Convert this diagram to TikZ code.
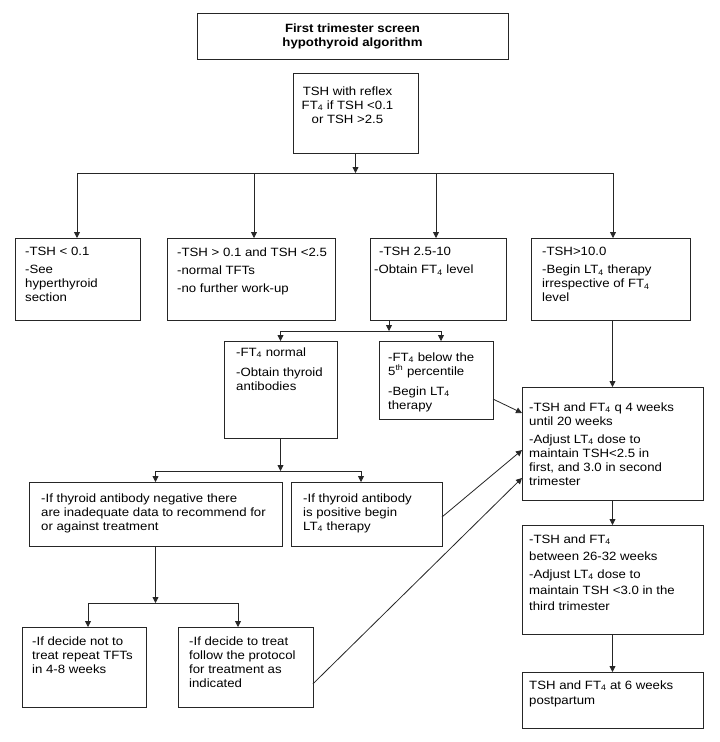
\documentclass[tikz,border=0pt]{standalone}
\usepackage{fontspec}
\setmainfont{Liberation Sans}[FakeStretch=1.1]
\usetikzlibrary{arrows.meta,calc}
\begin{document}
\begin{tikzpicture}[x=1pt,y=-1pt,
  bx/.style={draw=black!85, line width=0.8pt, anchor=north west, inner sep=0pt, outer sep=0pt},
  tx/.style={anchor=north west, inner sep=0pt, align=left, font=\fontsize{12}{14}\selectfont, execute at begin node=\strut},
  ln/.style={draw=black!85, line width=0.8pt},
  arr/.style={ln, -{Triangle[length=6pt,width=6pt]}}]
\fill[white] (0,0) rectangle (720,742);
\useasboundingbox (0,0) rectangle (720,742);

% boxes
\node[bx, minimum width=311, minimum height=46] (title) at (197,13) {};
\node[bx, minimum width=125, minimum height=80] (tsh) at (293,73) {};
\node[bx, minimum width=125, minimum height=82] (b1) at (15,238) {};
\node[bx, minimum width=168, minimum height=82] (b2) at (167,238) {};
\node[bx, minimum width=136, minimum height=82] (b3) at (370,238) {};
\node[bx, minimum width=159, minimum height=82] (b4) at (531,238) {};
\node[bx, minimum width=113, minimum height=97] (fn) at (224,341) {};
\node[bx, minimum width=114, minimum height=78] (fb) at (379,341) {};
\node[bx, minimum width=253, minimum height=64] (neg) at (29,482) {};
\node[bx, minimum width=151, minimum height=64] (pos) at (291,482) {};
\node[bx, minimum width=124, minimum height=80] (not) at (22,627) {};
\node[bx, minimum width=135, minimum height=80] (treat) at (178,627) {};
\node[bx, minimum width=181, minimum height=113] (r1) at (522,387) {};
\node[bx, minimum width=181, minimum height=109] (r2) at (522,525) {};
\node[bx, minimum width=181, minimum height=56] (r3) at (522,672) {};

% texts
\node[tx, anchor=north, align=center, font=\bfseries\fontsize{12}{14}\selectfont] (titlet) at (352.5,23.2) {First trimester screen\\hypothyroid algorithm};
\node[tx, anchor=north, align=center] (tsht) at (347.5,86.2) {TSH with reflex\\FT\textsubscript{4} if TSH <0.1\\or TSH >2.5};
\node[tx] (b1t) at (25,247.2) {-TSH < 0.1\\[4pt]-See\\hyperthyroid\\section};
\node[tx] (b2t) at (177,247.2) {-TSH > 0.1 and TSH <2.5\\[4pt]-normal TFTs\\[4pt]-no further work-up};
\node[tx] (b3t) at (374,247.2) {\hspace*{5pt}-TSH 2.5-10\\[4pt]-Obtain FT\textsubscript{4} level};
\node[tx] (b4t) at (542,247.2) {-TSH>10.0\\[4pt]-Begin LT\textsubscript{4} therapy\\irrespective of FT\textsubscript{4}\\level};
\node[tx] (fnt) at (236,347.2) {-FT\textsubscript{4} normal\\[6pt]-Obtain thyroid\\antibodies};
\node[tx] (fbt) at (388,352.2) {-FT\textsubscript{4} below the\\5\textsuperscript{th} percentile\\[6pt]-Begin LT\textsubscript{4}\\therapy};
\node[tx] (negt) at (41,493.2) {-If thyroid antibody negative there\\are inadequate data to recommend for\\or against treatment};
\node[tx] (post) at (303,493.2) {-If thyroid antibody\\is positive begin\\LT\textsubscript{4} therapy};
\node[tx] (nott) at (32,636.2) {-If decide not to\\treat repeat TFTs\\in 4-8 weeks};
\node[tx] (treatt) at (189,636.2) {-If decide to treat\\follow the protocol\\for treatment as\\indicated};
\node[tx] (r1t) at (529,402.2) {-TSH and FT\textsubscript{4} q 4 weeks\\until 20 weeks\\[4pt]-Adjust LT\textsubscript{4} dose to\\maintain TSH<2.5 in\\first, and 3.0 in second\\trimester};
\node[tx] (r2t) at (529,534.2) {-TSH and FT\textsubscript{4}\\[3pt]between 26-32 weeks\\[4pt]-Adjust LT\textsubscript{4} dose to\\[2pt]maintain TSH <3.0 in the\\[2pt]third trimester};
\node[tx] (r3t) at (529,680.2) {TSH and FT\textsubscript{4} at 6 weeks\\[1pt]postpartum};

% junction rows and columns
\coordinate (j1) at (0,173);
\coordinate (j2) at (0,331);
\coordinate (j3) at (0,471);
\coordinate (j4) at (0,603);
\coordinate (c1) at (77,0);
\coordinate (c2) at (254,0);
\coordinate (c3) at (436,0);
\coordinate (c4) at (613,0);
\coordinate (c3s) at (389,0);
\coordinate (cfb) at (441,0);
\coordinate (cpos) at (361,0);
\coordinate (cnot) at (88,0);
\coordinate (ctr) at (238,0);

% top split
\draw[arr] (tsh.south) -- (tsh.south |- j1);
\draw[ln] (j1 -| c1) -- (j1 -| c4);
\foreach \c/\b in {c1/b1,c2/b2,c3/b3,c4/b4}
  \draw[arr] (j1 -| \c) -- (\c |- \b.north);

% TSH 2.5-10 split
\draw[arr] (c3s |- b3.south) -- (c3s |- j2);
\draw[ln] (j2 -| fn.north) -- (j2 -| cfb);
\draw[arr] (j2 -| fn.north) -- (fn.north);
\draw[arr] (j2 -| cfb) -- (cfb |- fb.north);

% FT4 normal split
\draw[arr] (fn.south) -- (fn.south |- j3);
\draw[ln] (j3 -| neg.north) -- (j3 -| cpos);
\draw[arr] (j3 -| neg.north) -- (neg.north);
\draw[arr] (j3 -| cpos) -- (cpos |- pos.north);

% antibody negative split
\draw[arr] (neg.south) -- (neg.south |- j4);
\draw[ln] (j4 -| cnot) -- (j4 -| ctr);
\draw[arr] (j4 -| cnot) -- (cnot |- not.north);
\draw[arr] (j4 -| ctr) -- (ctr |- treat.north);

% right column
\draw[arr] (b4.south -| r1.north) -- (r1.north);
\draw[arr] (r1.south) -- (r2.north);
\draw[arr] (r2.south) -- (r3.north);

% diagonals into r1
\draw[arr] ($(fb.north east)!0.744!(fb.south east)$) -- ($(r1.north west)!0.23!(r1.south west)$);
\draw[arr] ($(pos.north east)!0.547!(pos.south east)$) -- ($(r1.north west)!0.558!(r1.south west)$);
\draw[arr] ($(treat.north east)!0.71!(treat.south east)$) -- ($(r1.north west)!0.805!(r1.south west)$);
\end{tikzpicture}
\end{document}
